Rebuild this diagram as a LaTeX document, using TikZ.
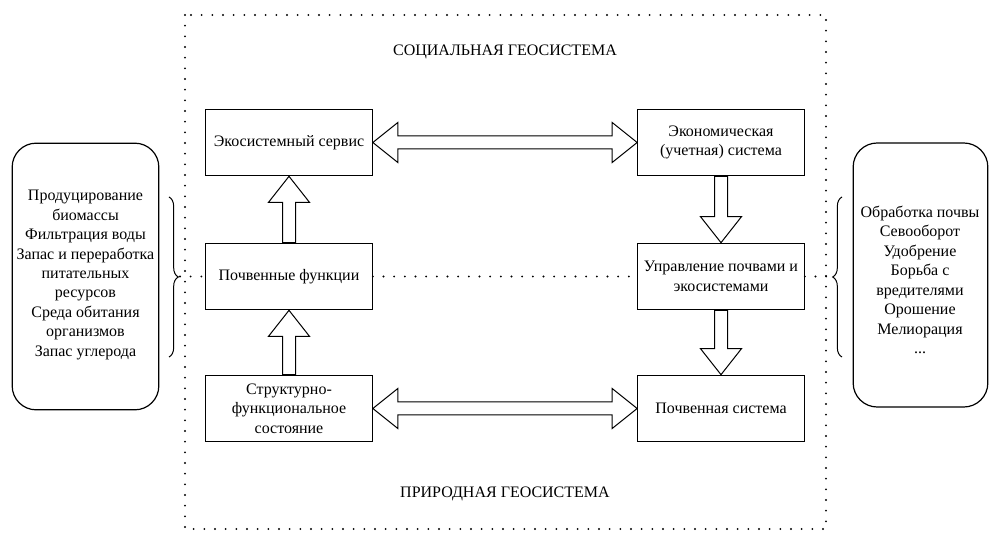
\documentclass[tikz,border=0pt]{standalone}
\usepackage{fontspec}
\setmainfont{Liberation Serif}
\usetikzlibrary{calc,decorations.pathreplacing}
\begin{document}
\begin{tikzpicture}
    [%%%%%%%%%%%%%%%%%%%%%%%%%%%%%%
        x=0.75pt, y=-0.75pt,
        box/.style={rectangle,draw=black,line width=0.75pt,fill=white,
            minimum width=125pt,minimum height=50pt,align=center,
            font=\fontsize{12}{14.6}\selectfont},
        sidebox/.style={rectangle,rounded corners=18pt,draw=black,line width=0.9pt},
        sidetext/.style={align=center,font=\fontsize{12}{14.6}\selectfont},
        title/.style={font=\fontsize{12}{14.6}\selectfont},
        dotline/.style={line width=1.6pt,line cap=round,dash pattern=on 0pt off 8pt},
        hollow/.style={draw=black,line width=0.75pt,fill=white,line join=miter},
        curly/.style={draw=black,line width=0.75pt,decorate,decoration={brace,amplitude=7pt}},
    ]%%%%%%%%%%%%%%%%%%%%%%%%%%%%%%
    \useasboundingbox (0,0) rectangle (990,534);
    % frame of the social geosystem
    \draw[dotline] (185,15) rectangle (826,529);
    \node[title] (soc) at (505,52) {СОЦИАЛЬНАЯ ГЕОСИСТЕМА};
    \node[title] (nat) at (505,494) {ПРИРОДНАЯ ГЕОСИСТЕМА};
    % main boxes
    \node[box] (eco) at (289,142.5) {Экосистемный сервис};
    \node[box] (econ) at (721,142.5) {Экономическая\\(учетная) система};
    \node[box] (pf) at (289,276.5) {Почвенные функции};
    \node[box] (mg) at (721,276.5) {Управление почвами и\\экосистемами};
    \node[box] (sfs) at (289,408.5) {Структурно-\\функциональное\\состояние};
    \node[box] (ps) at (721,408.5) {Почвенная система};
    % side boxes
    \node[sidebox,minimum width=110pt,minimum height=200pt] (lb) at (85.5,276.5) {};
    \node[sidetext] (lt) at (85.5,275) {Продуцирование\\биомассы\\Фильтрация воды\\Запас и переработка\\питательных\\ресурсов\\Среда обитания\\организмов\\Запас углерода};
    \node[sidebox,minimum width=101pt,minimum height=198pt] (rb) at (920.5,275) {};
    \node[sidetext] (rt) at (920,280) {Обработка почвы\\Севооборот\\Удобрение\\Борьба с\\вредителями\\Орошение\\Мелиорация\\...};
    % braces
    \coordinate (lbtop) at (169,197);
    \coordinate (lbbot) at (169,357);
    \coordinate (rbtop) at (842,197);
    \coordinate (rbbot) at (842,357);
    \coordinate (lbtip) at (180,276.5);
    \coordinate (rbtip) at (830,276.5);
    \draw[curly] (lbtop) -- (lbbot);
    \draw[curly] (rbbot) -- (rbtop);
    % dotted border between the geosystems
    \draw[dotline] (lbtip) -- (pf.west);
    \draw[dotline] (pf.east) -- (mg.west);
    \draw[dotline] (mg.east) -- (rbtip);
    % double arrows
    \draw[hollow] (eco.east) -- ++(25,-20) -- ++(0,13.5) -- ($(econ.west)+(-25,-6.5)$) -- ++(0,-13.5)
        -- (econ.west) -- ++(-25,20) -- ++(0,-13.5) -- ($(eco.east)+(25,6.5)$) -- ++(0,13.5) -- cycle;
    \draw[hollow] (sfs.east) -- ++(25,-20) -- ++(0,13.5) -- ($(ps.west)+(-25,-6.5)$) -- ++(0,-13.5)
        -- (ps.west) -- ++(-25,20) -- ++(0,-13.5) -- ($(sfs.east)+(25,6.5)$) -- ++(0,13.5) -- cycle;
    % up arrows
    \draw[hollow] (eco.south) -- ++(20.5,26) -- ++(-14,0) -- ($(pf.north)+(6.5,0)$) -- ++(-13,0)
        -- ($(eco.south)+(-6.5,26)$) -- ++(-14,0) -- cycle;
    \draw[hollow] (pf.south) -- ++(20.5,26) -- ++(-14,0) -- ($(sfs.north)+(6.5,0)$) -- ++(-13,0)
        -- ($(pf.south)+(-6.5,26)$) -- ++(-14,0) -- cycle;
    % down arrows
    \draw[hollow] (mg.north) -- ++(20.5,-26) -- ++(-14,0) -- ($(econ.south)+(6.5,0)$) -- ++(-13,0)
        -- ($(mg.north)+(-6.5,-26)$) -- ++(-14,0) -- cycle;
    \draw[hollow] (ps.north) -- ++(20.5,-26) -- ++(-14,0) -- ($(mg.south)+(6.5,0)$) -- ++(-13,0)
        -- ($(ps.north)+(-6.5,-26)$) -- ++(-14,0) -- cycle;
\end{tikzpicture}
\end{document}
